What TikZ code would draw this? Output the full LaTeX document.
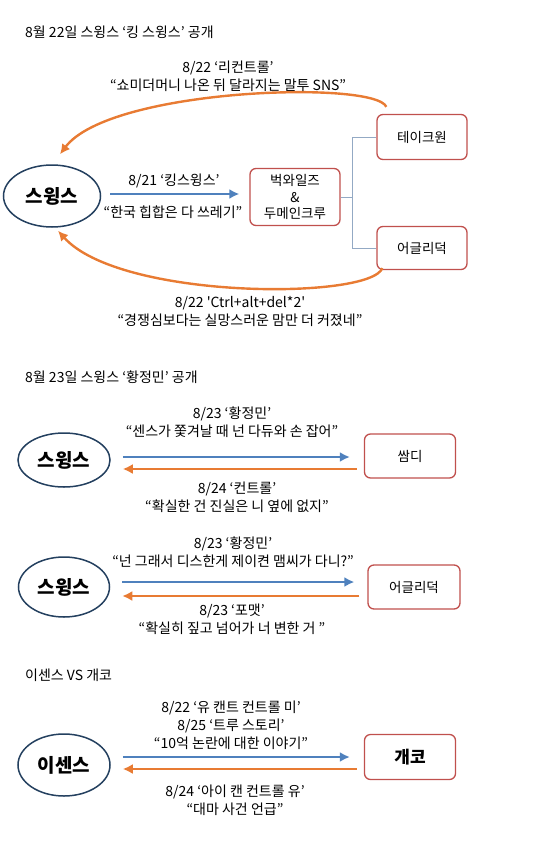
\documentclass[tikz,border=0pt]{standalone}
\usepackage{fontspec}
\setmainfont{Noto Sans CJK KR}
\newfontfamily\straightq{Noto Sans CJK KR}[Ligatures=TeXOff]
\usepackage{xcolor}
\usepackage{tikz}
\usetikzlibrary{arrows.meta,positioning,shapes.geometric}
\definecolor{rapline}{HTML}{24405F}
\definecolor{boxline}{HTML}{C0504D}
\definecolor{dissblue}{HTML}{4F81BD}
\definecolor{replyorange}{HTML}{E87B33}
\definecolor{treeline}{HTML}{93A9C4}

\begin{document}
\begin{tikzpicture}[x=1pt, y=-1pt, >={Latex[length=10pt,width=10pt]},
    rapper/.style={ellipse, draw=rapline, line width=1.5pt, minimum width=92pt, minimum height=58pt, inner sep=0pt, font=\fontsize{19}{21}\selectfont\bfseries},
    target/.style={draw=boxline, line width=1.3pt, rounded corners=6pt, minimum width=91pt, minimum height=44pt, inner sep=0pt, align=center, font=\fontsize{13.5}{16.5}\selectfont},
    diss/.style={->, line width=2.4pt, draw=dissblue},
    reply/.style={->, line width=2.4pt, draw=replyorange},
    lbl/.style={align=center, inner sep=1pt, font=\fontsize{14}{18}\selectfont},
    head/.style={anchor=west, inner sep=0pt, font=\fontsize{14}{16}\selectfont}]
    \useasboundingbox (0,0) rectangle (555,844);

    % 8/22 king swings
    \node[head] (h1) at (25,32) {8월 22일 스윙스 ‘킹 스윙스’ 공개};
    \node[rapper, minimum width=97pt, minimum height=62pt] (sw1) at (52,196) {스윙스};
    \node[target, minimum width=90pt, minimum height=57pt] (bw) at (295,197) {벅와일즈\\\&\\두메인크루};
    \node[target, minimum width=90pt, minimum height=45pt] (tk) at (422,137) {테이크원};
    \node[target, minimum width=90pt, minimum height=43pt] (ud1) at (422,248) {어글리덕};
    \draw[treeline, line width=0.8pt] (bw.east) -- ++(12,0) coordinate (fork) |- (tk.west);
    \draw[treeline, line width=0.8pt] (fork) |- (ud1.west);
    \draw[diss, shorten <=9pt, shorten >=10pt] ([yshift=2pt]sw1.east) -- ([yshift=2pt]sw1.east -| bw.west);
    \node[lbl] (l1a) at (174,181) {8/21 ‘킹스윙스’};
    \node[lbl] (l1b) at (173,212) {“한국 힙합은 다 쓰레기”};
    \draw[reply] ([xshift=10pt,yshift=7pt]tk.north west) .. controls (375,80) and (110,88) .. ([xshift=8pt,yshift=10pt]sw1.north);
    \node[lbl] (l1c) at (228,76.5) {8/22 ‘리컨트롤’\\“쇼미더머니 나온 뒤 달라지는 말투 SNS”};
    \draw[reply] ([xshift=6pt,yshift=2pt]ud1.south west) .. controls (370,300) and (120,300) .. ([xshift=6pt,yshift=-3pt]sw1.south);
    \node[lbl] (l1d) at (240,311.5) {{\straightq 8/22 'Ctrl+alt+del*2'}\\“경쟁심보다는 실망스러운 맘만 더 커졌네”};

    % 8/23 hwang jung min
    \node[head] (h2) at (25,377) {8월 23일 스윙스 ‘황정민’ 공개};
    \node[rapper, minimum height=54pt] (sw2) at (64,460) {스윙스};
    \node[target] (sd) at (410,456) {쌈디};
    \draw[diss, shorten <=12pt, shorten >=14pt] ([yshift=3pt]sw2.east) -- ([yshift=3pt]sw2.east -| sd.west);
    \draw[reply, shorten <=7pt, shorten >=12pt] ([yshift=-9pt]sw2.east -| sd.west) -- ([yshift=-9pt]sw2.east);
    \node[lbl] (l2a) at (232,422) {8/23 ‘황정민’\\“센스가 쫓겨날 때 넌 다듀와 손 잡어”};
    \node[lbl] (l2b) at (237,497) {8/24 ‘컨트롤’\\“확실한 건 진실은 니 옆에 없지”};

    \node[rapper, minimum width=91pt, minimum height=60pt] (sw3) at (64,587) {스윙스};
    \node[target, minimum width=92pt] (ud2) at (414,587) {어글리덕};
    \draw[diss, shorten <=12pt, shorten >=13pt] ([yshift=5pt]sw3.east) -- ([yshift=5pt]sw3.east -| ud2.west);
    \draw[reply, shorten <=8pt, shorten >=12pt] ([yshift=-9pt]sw3.east -| ud2.west) -- ([yshift=-9pt]sw3.east);
    \node[lbl] (l3a) at (233,552) {8/23 ‘황정민’\\“넌 그래서 디스한게 제이켠 맴씨가 다니?”};
    \node[lbl] (l3b) at (232,619) {8/23 ‘포맷’\\“확실히 짚고 넘어가 너 변한 거 ”};

    % e-sens vs gaeko
    \node[head] (h3) at (25,675) {이센스 VS 개코};
    \node[rapper, minimum height=62pt] (es) at (64,765) {이센스};
    \node[target, minimum height=45pt, font=\fontsize{17}{19}\selectfont\bfseries] (gk) at (410,757) {개코};
    \draw[diss, shorten <=12pt, shorten >=14pt] ([yshift=8pt]es.east) -- ([yshift=8pt]es.east -| gk.west);
    \draw[reply, shorten <=7pt, shorten >=12pt] ([yshift=-4pt]es.east -| gk.west) -- ([yshift=-4pt]es.east);
    \node[lbl] (l4a) at (231,725) {8/22 ‘유 캔트 컨트롤 미’\\8/25 ‘트루 스토리’\\“10억 논란에 대한 이야기”};
    \node[lbl] (l4b) at (235,800) {8/24 ‘아이 캔 컨트롤 유’\\“대마 사건 언급”};
\end{tikzpicture}
\end{document}
